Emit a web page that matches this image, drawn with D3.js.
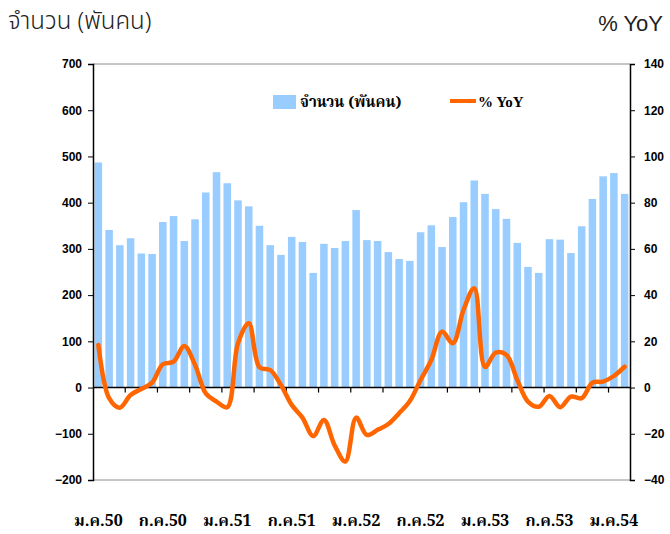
<html>
<head>
<meta charset="utf-8">
<script src="https://d3js.org/d3.v7.min.js"></script>
<style>
  body { margin: 0; background: #fff; }
  .tick text { font-family: "Liberation Sans", Arial, sans-serif; font-weight: bold; font-size: 12px; fill: #000; }
</style>
</head>
<body>
<svg width="670" height="534"></svg>
<script>
// employed persons (thousands) and % YoY, Jan 2007 (ม.ค.50) .. Feb 2011
const monthNames = ["ม.ค.","ก.พ.","มี.ค.","เม.ย.","พ.ค.","มิ.ย.","ก.ค.","ส.ค.","ก.ย.","ต.ค.","พ.ย.","ธ.ค."]
const years = ["50","51","52","53","54"]
const persons = [487,341,308,323,290,289,358,371,317,364,422,466,442,405,392,350,308,287,326,315,248,311,302,317,384,319,317,293,278,274,336,351,304,369,401,448,419,386,365,313,261,248,321,320,291,349,408,457,464,419]
const yoy = [18.4,-4.6,-8.7,-3.2,-0.6,2.1,10.1,11.2,18,9.8,-2.5,-6.1,-8.5,19.2,27.8,8.8,7.6,1.1,-7.5,-13,-21,-14,-25,-32,-13,-20.5,-18.3,-15.8,-11.1,-5.8,3.3,11.9,24.2,19.2,33.6,43,9,15.1,14.1,3.3,-6.1,-8.3,-3.6,-8.5,-3.9,-4.6,2.1,2.6,5,9]
const leftTicks = [-200,-100,0,100,200,300,400,500,600,700]
const rightTicks = [-40,-20,0,20,40,60,80,100,120,140]
const categories = years.flatMap(y => monthNames.map(m => m + y)).slice(0, persons.length)

const svg = d3.select("svg")
const x0 = 93, x1 = 630, yTop = 64, yBot = 480

var x = d3.scaleBand().domain(d3.range(categories.length)).range([x0, x1]).paddingInner(0.3).paddingOuter(0.15)
var y = d3.scaleLinear().domain([-200, 700]).range([yBot, yTop])
var y2 = d3.scaleLinear().domain([-40, 140]).range([yBot, yTop])

// plot area top / bottom border
svg.append("line").attr("x1", x0).attr("x2", x1).attr("y1", yTop).attr("y2", yTop).attr("stroke", "#8c8c8c")
svg.append("line").attr("x1", x0).attr("x2", x1).attr("y1", yBot).attr("y2", yBot).attr("stroke", "#8c8c8c")

// bars
svg.append("g").selectAll("rect").data(persons).enter().append("rect")
  .attr("x", (d, i) => x(i))
  .attr("width", x.bandwidth())
  .attr("y", d => y(d))
  .attr("height", d => y(0) - y(d))
  .attr("fill", "#99ccff")

// axes
svg.append("g").attr("transform", "translate(" + x0 + ",0)")
  .call(d3.axisLeft(y).tickValues(leftTicks).tickSize(5).tickPadding(6))
  .call(g => g.select(".domain").attr("stroke", "#000").attr("stroke-width", 1.5))
svg.append("g").attr("transform", "translate(" + x1 + ",0)")
  .call(d3.axisRight(y2).tickValues(rightTicks).tickSize(5).tickPadding(9))
  .call(g => g.select(".domain").attr("stroke", "#000").attr("stroke-width", 1.5))

// zero line with ticks every 3 months
var step = x.step()
svg.append("line").attr("x1", x0).attr("x2", x1).attr("y1", y(0)).attr("y2", y(0)).attr("stroke", "#000").attr("stroke-width", 1.5)
svg.append("g").selectAll("line").data(d3.range(3, categories.length, 3)).enter().append("line")
  .attr("x1", d => x0 + d * step).attr("x2", d => x0 + d * step)
  .attr("y1", y(0)).attr("y2", y(0) + 5)
  .attr("stroke", "#000").attr("stroke-width", 1.2)

// yoy line
var line = d3.line().x((d, i) => x(i) + x.bandwidth() / 2).y(d => y2(d)).curve(d3.curveCatmullRom.alpha(0.5))
svg.append("path").datum(yoy).attr("d", line)
  .attr("fill", "none").attr("stroke", "#ff6600").attr("stroke-width", 4.5).attr("stroke-linejoin", "round").attr("stroke-linecap", "round")

// month labels
svg.append("g").selectAll("text").data(categories.map((c, i) => [c, i]).filter(d => d[1] % 6 == 0)).enter().append("text")
  .attr("x", d => x(d[1]) + x.bandwidth() / 2)
  .attr("y", 526)
  .attr("text-anchor", "middle")
  .style("font-family", "'Noto Serif Thai', 'Noto Sans Thai', 'DejaVu Serif', serif")
  .style("font-weight", "bold").style("font-size", "16px")
  .text(d => d[0])

// titles
svg.append("text").attr("x", 8).attr("y", 29).text("จำนวน (พันคน)")
  .style("font-family", "'Noto Sans Thai', 'Noto Sans', sans-serif").style("font-size", "24px").style("font-weight", "300").attr("fill", "#222")
svg.append("text").attr("x", 663).attr("y", 31).attr("text-anchor", "end").text("% YoY")
  .style("font-family", "'Liberation Sans', Arial, sans-serif").style("font-size", "22px").attr("fill", "#222")

// legend
svg.append("rect").attr("x", 273).attr("y", 95).attr("width", 23).attr("height", 14).attr("fill", "#99ccff")
svg.append("text").attr("x", 300).attr("y", 107).text("จำนวน (พันคน)")
  .style("font-family", "'Noto Serif Thai', 'Noto Sans Thai', serif").style("font-weight", "bold").style("font-size", "15px")
svg.append("line").attr("x1", 450).attr("x2", 476).attr("y1", 101).attr("y2", 101).attr("stroke", "#ff6600").attr("stroke-width", 4)
svg.append("text").attr("x", 478).attr("y", 107).text("% YoY")
  .style("font-family", "'Liberation Serif', serif").style("font-weight", "bold").style("font-size", "15px")
</script>
</body>
</html>
